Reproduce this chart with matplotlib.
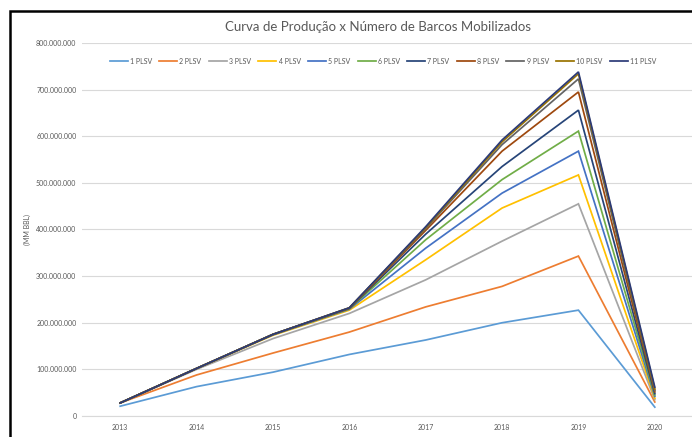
import matplotlib
matplotlib.use('Agg')
import matplotlib.pyplot as plt
from matplotlib.patches import Rectangle
from matplotlib.ticker import FuncFormatter

plt.rcParams['font.family'] = ['Lato', 'DejaVu Sans']

years = [2013, 2014, 2015, 2016, 2017, 2018, 2019, 2020]
labels = ['1 PLSV', '2 PLSV', '3 PLSV', '4 PLSV', '5 PLSV', '6 PLSV',
          '7 PLSV', '8 PLSV', '9 PLSV', '10 PLSV', '11 PLSV']
colors = ['#5B9BD5', '#ED7D31', '#A5A5A5', '#FFC000', '#4472C4', '#70AD47',
          '#264478', '#9E480E', '#636363', '#997300', '#2B3A78']

# producao acumulada (milhoes de barris) por numero de PLSV
plsv_1 = [21, 63, 94, 132, 163, 200, 227, 19]
plsv_2 = [28, 88, 135, 180, 234, 278, 343, 30]
plsv_3 = [28, 100, 166, 220, 292, 375, 455, 35]
plsv_4 = [28, 102, 173, 227, 335, 446, 517, 38]
plsv_5 = [28, 102, 174, 229, 360, 478, 568, 42]
plsv_6 = [28, 102, 175, 230, 378, 507, 611, 45]
plsv_7 = [28, 102, 175, 231, 390, 535, 656, 48]
plsv_8 = [28, 102, 175, 231, 398, 568, 695, 52]
plsv_9 = [28, 102, 175, 232, 402, 582, 723, 55]
plsv_10 = [28, 102, 175, 232, 404, 588, 734, 58]
plsv_11 = [28, 102, 175, 232, 406, 592, 738, 62]
series = [plsv_1, plsv_2, plsv_3, plsv_4, plsv_5, plsv_6,
          plsv_7, plsv_8, plsv_9, plsv_10, plsv_11]


def fmt_thousands(v, pos):
    return f'{int(round(v)):,}'.replace(',', '.')


fig = plt.figure(figsize=(6.92, 4.37), dpi=100)
ax = fig.add_axes([82 / 692, 1 - 416 / 437, 611 / 692, 373 / 437])

for vals, lab, c in zip(series, labels, colors):
    ax.plot(years, [v * 1e6 for v in vals], color=c, lw=1.25, label=lab,
            solid_joinstyle='miter')

ax.set_xlim(2012.5, 2020.5)
ax.set_ylim(0, 800e6)
ax.set_xticks(years)
ax.set_yticks(range(0, 800000001, 100000000))
ax.yaxis.set_major_formatter(FuncFormatter(fmt_thousands))
ax.grid(axis='y', color='#D9D9D9', lw=0.8)
ax.set_axisbelow(True)
for side in ['top', 'right', 'left']:
    ax.spines[side].set_visible(False)
ax.spines['bottom'].set_color('#D9D9D9')
ax.tick_params(axis='both', length=0, labelsize=5, colors='#595959')
ax.tick_params(axis='x', pad=6)
ax.tick_params(axis='y', pad=4)
ax.set_ylabel('(MM BBL)', fontsize=5, color='#595959', labelpad=4)

fig.text(378 / 692, 1 - 27 / 437, 'Curva de Produção x Número de Barcos Mobilizados',
         ha='center', va='center', fontsize=9.5, color='#595959')

leg = ax.legend(loc='center', bbox_to_anchor=(383 / 692, 1 - 61 / 437),
                bbox_transform=fig.transFigure, ncol=11, frameon=False,
                fontsize=5, handlelength=2.6, handletextpad=0.3,
                columnspacing=1.05)
for t in leg.get_texts():
    t.set_color('#595959')

# moldura preta (cortada a direita e embaixo)
fig.patches.append(Rectangle((10 / 692, -0.1), 1.2, 1 - 11 / 437 + 0.1,
                             transform=fig.transFigure, fill=False,
                             edgecolor='black', lw=1.8))

fig.savefig('out.png', dpi=100)
